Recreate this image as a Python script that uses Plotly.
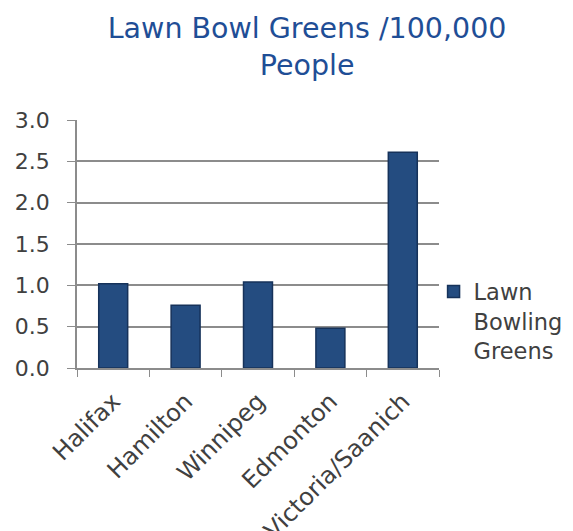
import plotly.graph_objects as go

cities = ["Halifax", "Hamilton", "Winnipeg", "Edmonton", "Victoria/Saanich"]
greens_per_100k = [1.02, 0.76, 1.04, 0.48, 2.61]
y_ticks = [0.0, 0.5, 1.0, 1.5, 2.0, 2.5, 3.0]
series_name = "Lawn<br>Bowling<br>Greens"
title_text = "Lawn Bowl Greens /100,000<br>People"

fig = go.Figure()
fig.add_trace(go.Bar(
    x=cities, y=greens_per_100k, name=series_name,
    marker=dict(color="#244C80", line=dict(color="#16325A", width=1.5)),
    showlegend=True,
))

font_family = "DejaVu Sans, Liberation Sans, Arial, sans-serif"
fig.update_layout(
    width=573, height=531,
    margin=dict(l=69, r=142, t=112, b=171, autoexpand=False),
    paper_bgcolor="white", plot_bgcolor="white",
    title=dict(text=title_text, x=0.522, xanchor="center", xref="container",
               yref="container", y=0.943, yanchor="top",
               font=dict(family=font_family, size=28.5, color="#1F4E96")),
    font=dict(family=font_family, size=22, color="#404040"),
    bargap=0.6,
    showlegend=True,
    legend=dict(x=0.985, y=0.19, xanchor="left", yanchor="middle",
                font=dict(size=22.5, color="#404040"), itemwidth=30,
                valign="top", bgcolor="rgba(0,0,0,0)"),
    xaxis=dict(showline=True, linecolor="#8C8C8C", linewidth=1.5,
               ticks="outside", ticklen=7, tickcolor="#8C8C8C", tickangle=-45,
               tickfont=dict(size=24), ticklabelstandoff=8,
               tickson="boundaries", showgrid=False, automargin=False),
    yaxis=dict(range=[0, 3.0], tickvals=y_ticks, tickformat=".1f",
               showline=True, linecolor="#8C8C8C", linewidth=1.5,
               ticks="outside", ticklen=8, tickcolor="#8C8C8C",
               ticklabelstandoff=13,
               showgrid=True, gridcolor="#8C8C8C", gridwidth=1.5,
               zeroline=False, automargin=False),
)

fig.write_html("out.html")
